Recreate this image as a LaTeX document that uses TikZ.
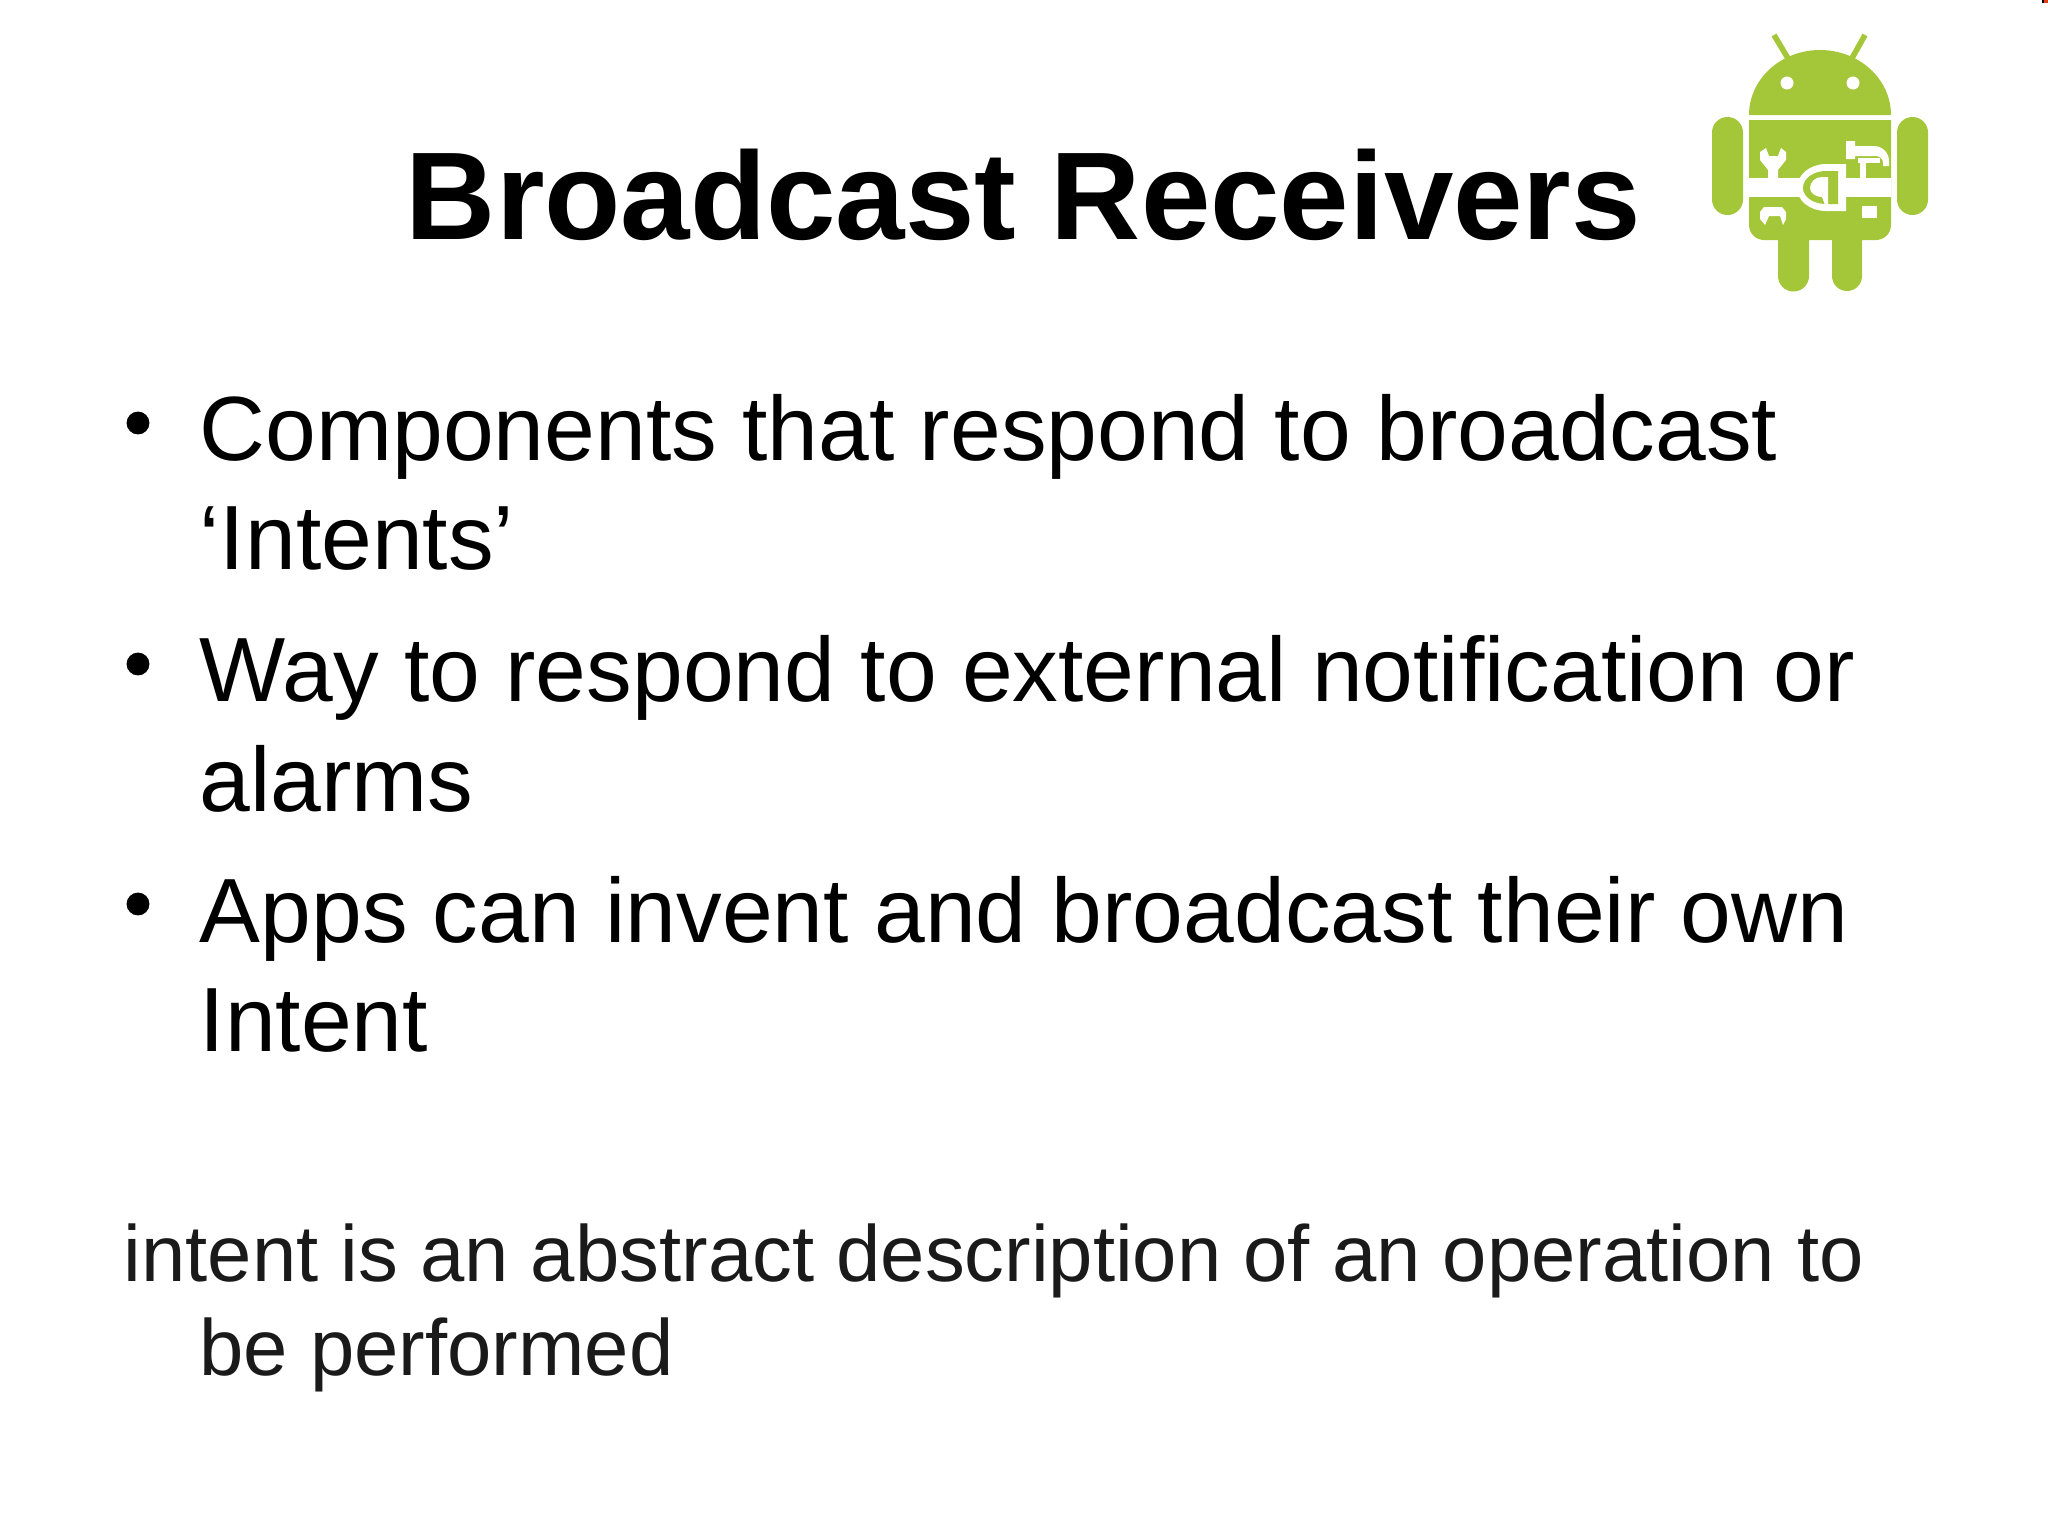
\documentclass[tikz,border=0pt]{standalone}
\usepackage{fontspec}
\setmainfont{Liberation Sans}
\definecolor{robotgreen}{HTML}{A4C639}
\definecolor{notegrey}{HTML}{1A1A1A}
\definecolor{cornerred}{HTML}{E0401A}
\tikzset{
  titletext/.style={anchor=base,inner sep=0pt,font=\fontsize{35.5}{40}\bfseries\selectfont},
  bodytext/.style={anchor=base west,inner sep=0pt,font=\fontsize{25.95}{31}\selectfont},
  notetext/.style={anchor=base west,inner sep=0pt,text=notegrey,font=\fontsize{22.65}{27}\selectfont},
  dotmark/.style={circle,fill=black,inner sep=0pt,minimum size=6.5pt},
  robotpart/.style={fill=robotgreen,draw=none},
  robotcut/.style={fill=white,draw=none}
}
\begin{document}
\begin{tikzpicture}[x=0.01cm,y=-0.01cm]
\useasboundingbox (0,0) rectangle (2048,1536);
% heading
\node[titletext] (title) at (1023.5,239) {Broadcast Receivers};
% bullets
\node[dotmark] (dotone) at (138,423) {};
\node[bodytext] (lineone) at (199,460) {Components that respond to broadcast};
\node[bodytext] (linetwo) at (199,569) {‘Intents’};
\node[dotmark] (dotthree) at (138,664) {};
\node[bodytext] (linethree) at (199,701) {Way to respond to external notification or};
\node[bodytext] (linefour) at (199,811) {alarms};
\node[dotmark] (dotfive) at (138,904) {};
\node[bodytext] (linefive) at (199,942) {Apps can invent and broadcast their own};
\node[bodytext] (linesix) at (199,1051) {Intent};
% note
\node[notetext] (noteone) at (123,1281) {intent is an abstract description of an operation to};
\node[notetext] (notetwo) at (199,1375) {be performed};
% robot
\draw[robotgreen,line width=1.6pt] (1774,35) -- (1789,60) (1865,35) -- (1851,60);
\fill[robotpart] (1749,115) arc[start angle=180,end angle=360,x radius=71,y radius=65] -- cycle;
\fill[robotpart] (1749,120) -- (1891,120) -- (1891,225) arc[start angle=0,end angle=90,radius=15] -- (1862,240)
  -- (1862,276) arc[start angle=0,end angle=180,radius=15] -- (1832,240) -- (1809,240)
  -- (1809,276) arc[start angle=0,end angle=180,radius=15.5] -- (1778,240) -- (1764,240)
  arc[start angle=90,end angle=180,radius=15] -- cycle;
\fill[robotpart,rounded corners=4.4pt] (1712,117) rectangle (1743,215);
\fill[robotpart,rounded corners=4.4pt] (1897,117) rectangle (1928,215);
\fill[robotcut] (1787,83) circle[radius=6.5] (1853,83) circle[radius=6.5];
% tools on the body
\fill[robotcut] (1749,178) rectangle (1891,197);
\fill[robotcut] (1846,164) -- (1826,164) arc[start angle=270,end angle=180,x radius=29,y radius=24] -- (1797,188)
  arc[start angle=180,end angle=90,x radius=29,y radius=23] -- (1846,211) -- cycle;
\fill[robotpart] (1838,171) -- (1826,171) arc[start angle=270,end angle=180,x radius=23,y radius=17] -- (1803,188)
  arc[start angle=180,end angle=90,x radius=23,y radius=16] -- (1825,204) -- (1838,204) -- cycle;
\fill[robotcut] (1828,177) -- (1822,177) arc[start angle=270,end angle=180,x radius=12,y radius=11] -- (1810,188)
  arc[start angle=180,end angle=90,x radius=12,y radius=9] -- (1825,205) -- (1828,205) -- cycle;
\fill[robotcut] (1768,178) -- (1768,170) -- (1760,160) -- (1760,152) -- (1766,148) -- (1769,156) -- (1778,156) -- (1781,148) -- (1786,152)
  -- (1786,160) -- (1778,170) -- (1778,178) -- cycle;
\fill[robotcut] (1765,225) -- (1760,219) -- (1760,212) -- (1764,207) -- (1782,207) -- (1786,212) -- (1786,219) -- (1783,225) -- (1780,216) -- (1769,216) -- cycle;
\fill[robotcut] (1862,206) rectangle (1877,218);
\fill[robotcut] (1846,141) -- (1855,141) -- (1855,146) -- (1874,146) arc[start angle=270,end angle=360,radius=15] -- (1889,166) -- (1883,166) -- (1883,163)
  arc[start angle=0,end angle=-90,radius=7] -- (1855,156) -- (1855,159) -- (1846,159) -- cycle;
\fill[robotcut] (1858,158) rectangle (1880,163);
\fill[robotcut] (1860,158) rectangle (1866,178);
% corner speck
\fill[black] (2042,0) rectangle (2044,3);
\fill[cornerred] (2044,0) rectangle (2048,3);
\end{tikzpicture}
\end{document}
